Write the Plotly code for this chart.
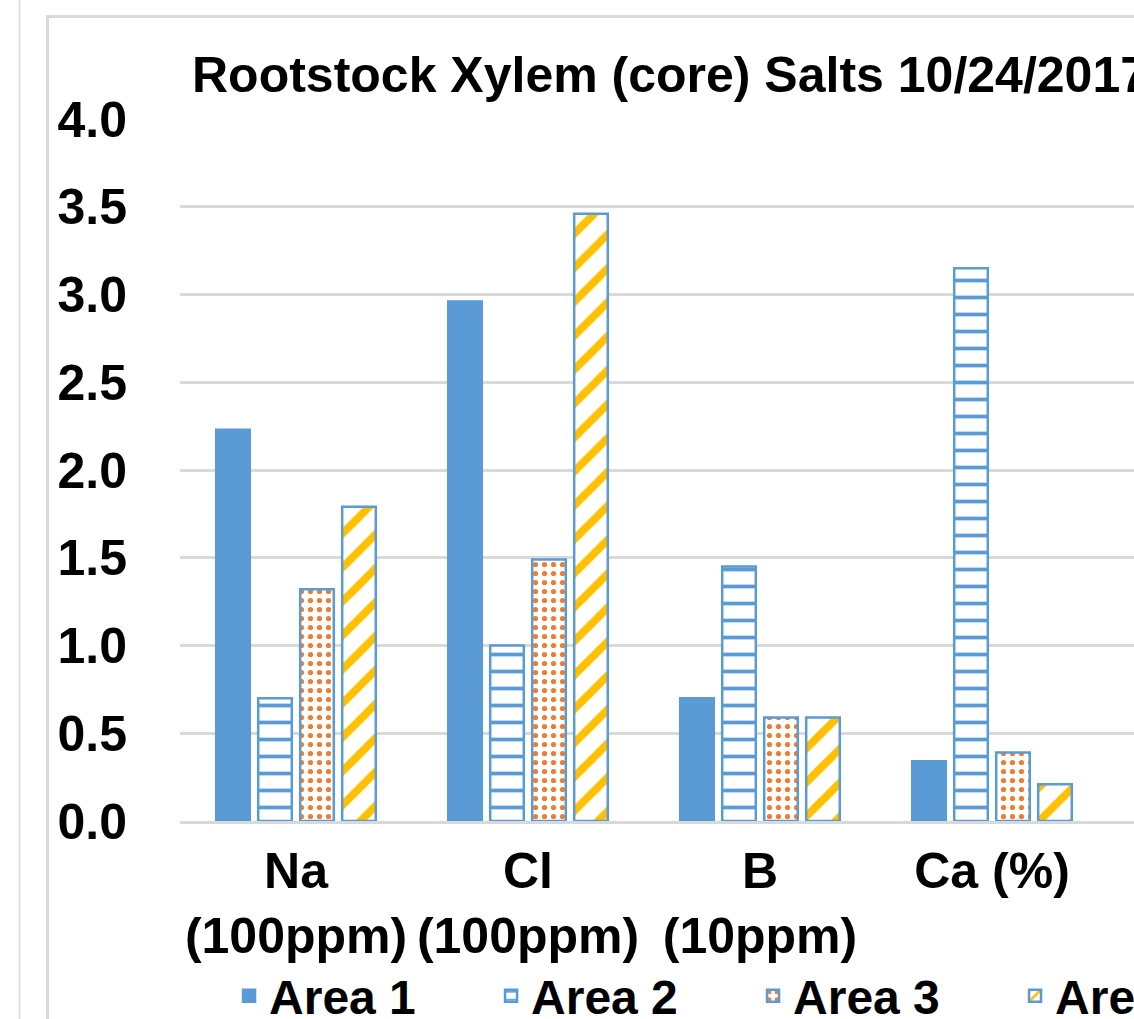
import plotly.graph_objects as go

# ---------------- data ----------------
categories = ["Na<br>(100ppm)", "Cl<br>(100ppm)", "B<br>(10ppm)", "Ca (%)"]
series_names = ["Area 1", "Area 2", "Area 3", "Area 4"]
area1 = [2.23, 2.96, 0.70, 0.34]
area2 = [0.70, 1.00, 1.45, 3.15]
area3 = [1.32, 1.49, 0.59, 0.39]
area4 = [1.79, 3.46, 0.59, 0.21]
y_tick_values = [0.0, 0.5, 1.0, 1.5, 2.0, 2.5, 3.0, 3.5, 4.0]
y_tick_labels = ["0.0", "0.5", "1.0", "1.5", "2.0", "2.5", "3.0", "3.5", "4.0"]
title_text = "Rootstock Xylem (core) Salts 10/24/2017"

# ---------------- geometry ----------------
W, H = 1134, 1019
L, R, T, B = 180, 0, 119, 198
PW, PH = W - L - R, H - T - B
CAT_PX = 232.0
x_range = [-0.5, -0.5 + PW / CAT_PX]


def px(x):
    return (x - L) / PW


def py(y):
    return (H - B - y) / PH


FONT = "Liberation Sans, Arial, sans-serif"
BLUE = "#5B9BD5"
ORANGE = "#ED7D31"
GOLD = "#FFC000"
GRID = "#D9D9D9"

fig = go.Figure()

styles = [
    dict(color=BLUE, line=dict(color=BLUE, width=2.5)),
    dict(color="white", line=dict(color=BLUE, width=2.5),
         pattern=dict(shape="-", fgcolor=BLUE, bgcolor="white", fgopacity=1,
                      size=17, solidity=0.22)),
    dict(color="white", line=dict(color=BLUE, width=2.5),
         pattern=dict(shape=".", fgcolor=ORANGE, bgcolor="white", fgopacity=1,
                      size=9, solidity=0.26)),
    dict(color="white", line=dict(color=BLUE, width=2.5),
         pattern=dict(shape="/", fgcolor=GOLD, bgcolor="white", fgopacity=1,
                      size=24, solidity=0.33)),
]

for name, vals, mk in zip(series_names, [area1, area2, area3, area4], styles):
    fig.add_trace(go.Bar(x=categories, y=vals, name=name, marker=mk))

shapes = [
    dict(type="line", xref="paper", yref="paper", x0=px(19.5), x1=px(19.5),
         y0=py(0), y1=py(H), line=dict(color=GRID, width=1.5)),
    dict(type="line", xref="paper", yref="paper", x0=px(47.5), x1=px(47.5),
         y0=py(15), y1=py(H), line=dict(color=GRID, width=3)),
    dict(type="line", xref="paper", yref="paper", x0=px(46), x1=px(W + 5),
         y0=py(16.5), y1=py(16.5), line=dict(color=GRID, width=3)),
]

fig.update_layout(
    width=W, height=H,
    margin=dict(l=L, r=R, t=T, b=B, pad=0, autoexpand=False),
    paper_bgcolor="white", plot_bgcolor="white",
    barmode="group", bargap=0.276, bargroupgap=0.2,
    font=dict(family=FONT, color="black"),
    title=dict(text=title_text, xref="container", yref="container",
               x=192 / W, xanchor="left", y=1 - 74 / H, yanchor="middle",
               font=dict(family=FONT, size=50, color="black", weight="bold")),
    xaxis=dict(range=x_range, showgrid=False, zeroline=False,
               showline=True, linecolor=GRID, linewidth=3,
               ticks="", tickangle=0, ticklabelstandoff=4,
               tickfont=dict(family=FONT, size=50, color="black", weight="bold")),
    yaxis=dict(range=[0, 4], tickvals=y_tick_values, ticktext=y_tick_labels,
               showgrid=True, gridcolor=GRID, gridwidth=2.5, zeroline=False,
               showline=False, ticks="", ticklabelstandoff=52,
               tickfont=dict(family=FONT, size=50, color="black", weight="bold")),
    legend=dict(orientation="h", x=-0.001, xanchor="left", y=py(996), yanchor="middle",
                font=dict(family=FONT, size=48, color="black", weight="bold"),
                entrywidth=167, entrywidthmode="pixels", indentation=50,
                bgcolor="rgba(0,0,0,0)", traceorder="normal"),
    shapes=shapes,
    showlegend=True,
)

fig.write_html(
    "out.html",
    config={"displayModeBar": False},
    post_script="document.body.style.margin='0px';document.body.style.overflow='hidden';",
)
